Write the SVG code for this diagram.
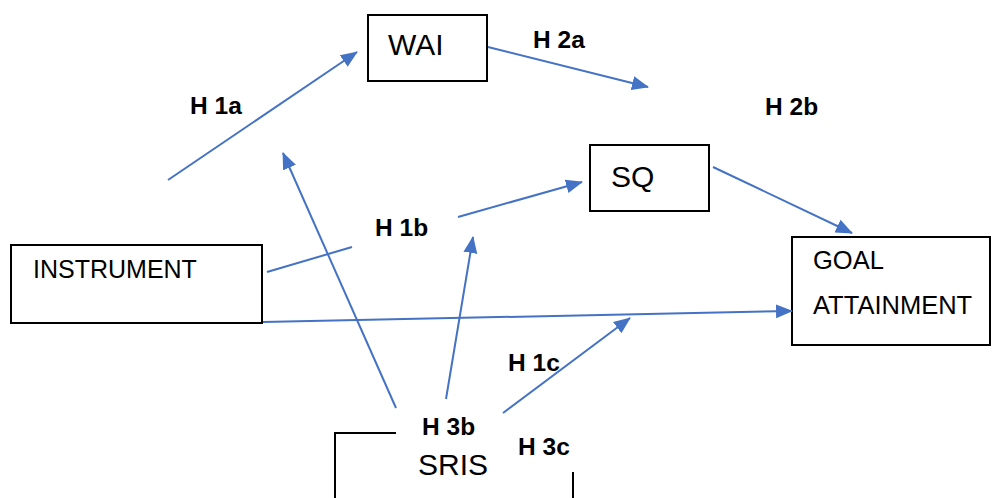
<svg xmlns="http://www.w3.org/2000/svg" width="992" height="498" viewBox="0 0 992 498">
<style>
.box{fill:#fff;stroke:#000;stroke-width:2}
.edge{fill:none;stroke:#4472C4;stroke-width:2}
.nt{font-family:"Liberation Sans",Arial,sans-serif;fill:#000}
.lb{font-family:"Liberation Sans",Arial,sans-serif;font-weight:bold;font-size:24.5px;fill:#000}
</style>
<defs>
<marker id="ah" markerUnits="userSpaceOnUse" markerWidth="18" markerHeight="16" refX="16" refY="7" orient="auto" viewBox="0 0 18 14">
<path d="M0,0 L17,7 L0,14 Z" fill="#4472C4"/>
</marker>
</defs>
<rect width="992" height="498" fill="#fff"/>
<g id="node-wai">
<rect class="box" x="368" y="15" width="119" height="66"/>
<text class="nt" x="388" y="55" font-size="30">WAI</text>
</g>
<g id="node-sq">
<rect class="box" x="590" y="145" width="119" height="66"/>
<text class="nt" x="611" y="187" font-size="30">SQ</text>
</g>
<g id="node-instrument">
<rect class="box" x="11" y="245" width="251" height="78"/>
<text class="nt" x="33" y="278" font-size="25">INSTRUMENT</text>
</g>
<g id="node-goal">
<rect class="box" x="792" y="237" width="198" height="108"/>
<text class="nt" x="813" y="269" font-size="25.5">GOAL</text>
<text class="nt" x="813" y="314" font-size="25.5">ATTAINMENT</text>
</g>
<g id="node-sris">
<path d="M396,433 H335 V499" fill="none" stroke="#000" stroke-width="2"/>
<path d="M573,472 V499" fill="none" stroke="#000" stroke-width="2"/>
<text class="nt" x="418" y="475" font-size="30">SRIS</text>
</g>
<g id="connectors">
<line class="edge" x1="168" y1="180" x2="357" y2="52" marker-end="url(#ah)"/>
<line class="edge" x1="488" y1="47" x2="648" y2="87" marker-end="url(#ah)"/>
<line class="edge" x1="713" y1="167" x2="852" y2="233" marker-end="url(#ah)"/>
<line class="edge" x1="263" y1="322" x2="792" y2="311" marker-end="url(#ah)"/>
<line class="edge" x1="267" y1="272" x2="352" y2="247"/>
<line class="edge" x1="458" y1="217" x2="582" y2="182" marker-end="url(#ah)"/>
<line class="edge" x1="396" y1="408" x2="283" y2="153" marker-end="url(#ah)"/>
<line class="edge" x1="446" y1="399" x2="473" y2="237" marker-end="url(#ah)"/>
<line class="edge" x1="503" y1="413" x2="630" y2="318" marker-end="url(#ah)"/>
</g>
<g id="labels">
<text class="lb" x="190" y="114">H 1a</text>
<text class="lb" x="533" y="48">H 2a</text>
<text class="lb" x="765" y="115">H 2b</text>
<text class="lb" x="375" y="236">H 1b</text>
<text class="lb" x="508" y="371">H 1c</text>
<text class="lb" x="422" y="435">H 3b</text>
<text class="lb" x="518" y="455">H 3c</text>
</g>
</svg>
